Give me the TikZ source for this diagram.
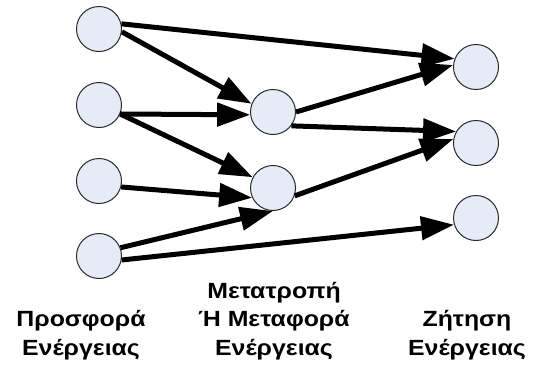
\documentclass[tikz,border=0pt]{standalone}
\usepackage{fontspec}
\setmainfont{Liberation Sans}
\newfontfamily\capfont{Liberation Sans}[FakeStretch=1.13]
\usetikzlibrary{arrows.meta}
\definecolor{nodefill}{RGB}{230,236,247}
\definecolor{nodeline}{RGB}{40,40,40}
\tikzset{
  hub/.style={circle, minimum size=45pt, inner sep=0pt, fill=nodefill, draw=nodeline, line width=1pt},
  flow/.style={line width=5pt, -{Triangle[length=33pt,width=23pt]}, shorten >=0pt},
  caption/.style={align=center, font=\capfont\fontsize{22}{28.5}\selectfont\bfseries, anchor=base, inner sep=0pt}
}
\begin{document}
\begin{tikzpicture}[x=1pt,y=-1pt]
\useasboundingbox (0,0) rectangle (538,373);
% supply column
\node[hub] (s1) at (99,29) {};
\node[hub] (s2) at (99,105) {};
\node[hub] (s3) at (99,181) {};
\node[hub] (s4) at (99,256) {};
% conversion / transport column
\node[hub] (c1) at (273,112) {};
\node[hub] (c2) at (273,188) {};
% demand column
\node[hub] (d1) at (476,67) {};
\node[hub] (d2) at (476,143) {};
\node[hub] (d3) at (476,218) {};
% flows
\draw[flow] (s1.13) -- (d1.159);
\draw[flow] (s1.-7) -- (c1.159);
\draw[flow] (s2.-23) -- (c1.187);
\draw[flow] (s2.-23) -- (c2.152);
\draw[flow] (s3.-15) -- (c2.205);
\draw[flow] (s4.21) -- (c2.270);
\draw[flow] (s4.-10) -- (d3.197);
\draw[flow] (c1.0) -- (d1.175);
\draw[flow] (c1.-37) -- (d2.150);
\draw[flow] (c2.-20) -- (d2.170);
% column captions (anchored at the baseline of the last line)
\node[caption] (t1) at (81,355) {Προσφορά\\Ενέργειας};
\node[caption] (t2) at (274,355) {Μετατροπή\\Ή Μεταφορά\\Ενέργειας};
\node[caption] (t3) at (467,355) {Ζήτηση\\Ενέργειας};
\end{tikzpicture}
\end{document}
